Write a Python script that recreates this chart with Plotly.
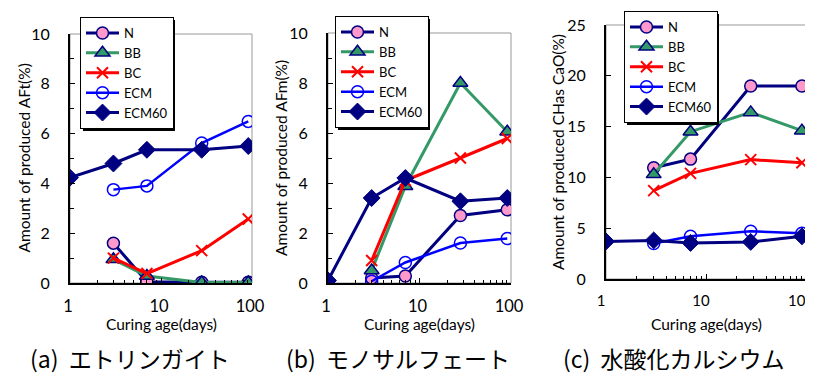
import plotly.graph_objects as go

# ---------------- data ----------------
days = [1, 3, 7, 28, 91]
series_names = ["N", "BB", "BC", "ECM", "ECM60"]

aft_N = [None, 1.6, 0.05, 0.03, 0.03]
aft_BB = [None, 0.95, 0.28, 0.02, 0.02]
aft_BC = [None, 1.0, 0.38, 1.3, 2.57]
aft_ECM = [None, 3.75, 3.9, 5.62, 6.49]
aft_ECM60 = [4.23, 4.8, 5.35, 5.35, 5.5]

afm_N = [None, 0.2, 0.28, 2.7, 2.93]
afm_BB = [None, 0.5, 3.87, 8.0, 6.05]
afm_BC = [None, 0.9, 4.1, 5.0, 5.78]
afm_ECM = [None, 0.07, 0.82, 1.6, 1.78]
afm_ECM60 = [0.1, 3.4, 4.2, 3.27, 3.4]

ch_N = [None, 10.95, 11.8, 19.0, 19.0]
ch_BB = [None, 10.3, 14.5, 16.4, 14.6]
ch_BC = [None, 8.7, 10.4, 11.75, 11.45]
ch_ECM = [None, 3.5, 4.2, 4.7, 4.5]
ch_ECM60 = [3.7, 3.8, 3.55, 3.65, 4.2]

x_tick_vals = [1, 10, 100]
x_tick_text = ["1", "10", "100"]
x_minor_vals = [2, 3, 4, 5, 6, 7, 8, 9, 20, 30, 40, 50, 60, 70, 80, 90]

y_titles = ["Amount of produced AFt(%)", "Amount of produced AFm(%)",
            "Amount of produced CHas CaO(%)"]
x_title = "Curing age(days)"
captions = ["(a)  エトリンガイト", "(b)  モノサルフェート", "(c)  水酸化カルシウム"]

panels = [
    [aft_N, aft_BB, aft_BC, aft_ECM, aft_ECM60],
    [afm_N, afm_BB, afm_BC, afm_ECM, afm_ECM60],
    [ch_N, ch_BB, ch_BC, ch_ECM, ch_ECM60],
]

# ---------------- styles ----------------
W, H = 813, 383
NAVY = "#000080"
styles = {
    "N": dict(line=dict(color=NAVY, width=3),
              marker=dict(symbol="circle", size=12, color="#FF99CC",
                          line=dict(color=NAVY, width=1.5))),
    "BB": dict(line=dict(color="#339966", width=3),
               marker=dict(symbol="triangle-up", size=13, color="#339966",
                           line=dict(color=NAVY, width=1.5))),
    "BC": dict(line=dict(color="#FF0000", width=3),
               marker=dict(symbol="x-thin", size=11, color="#FF0000",
                           line=dict(color="#FF0000", width=2))),
    "ECM": dict(line=dict(color="#0000FF", width=2.5),
                marker=dict(symbol="circle-open", size=12, color="#0000FF",
                            line=dict(width=1.5))),
    "ECM60": dict(line=dict(color=NAVY, width=3),
                  marker=dict(symbol="diamond", size=13, color=NAVY,
                              line=dict(color=NAVY, width=1))),
}

# pixel boxes of plot areas: (left, right, top, bottom)
boxes = [(62, 244, 26, 275), (320, 503, 25, 275), (598, 798, 17, 271)]
y_ranges = [[0, 10], [0, 10], [0, 25]]
y_dticks = [2, 2, 5]
y_minor = [1, 1, None]
x_label_shift = [-2, -2, -5]
x_label_size = [16.5, 16.5, 15]
legend_pos = [(72, 9), (327, 8), (616, 3)]
ytitle_x = [15, 273, 550]
caption_x = [122, 390, 666]

LEG_FONT = 13
LEG_W = 92
LEG_H = 111

fig = go.Figure()
FONT = "Lato, Carlito, Calibri, sans-serif"

for p, data in enumerate(panels):
    ax = "" if p == 0 else str(p + 1)
    leg = "legend" if p == 0 else f"legend{p + 1}"
    for name, vals in zip(series_names, data):
        st = styles[name]
        fig.add_trace(go.Scatter(
            x=days, y=vals, name=name, mode="lines+markers",
            line=st["line"], marker=st["marker"], connectgaps=False,
            xaxis="x" + ax, yaxis="y" + ax, legend=leg, showlegend=True))

layout = dict(
    width=W, height=H,
    margin=dict(l=0, r=0, t=0, b=0, pad=0, autoexpand=False),
    paper_bgcolor="white", plot_bgcolor="white",
    font=dict(family=FONT, size=16, color="black"),
    shapes=[], annotations=[],
)

for p in range(3):
    l, r, t, b = boxes[p]
    ax = "" if p == 0 else str(p + 1)
    xa = "xaxis" + ax
    ya = "yaxis" + ax
    layout[xa] = dict(
        type="log", range=[0, 2], domain=[l / W, r / W],
        anchor="y" + ax, showgrid=False, zeroline=False,
        showline=True, linecolor="black", linewidth=2,
        ticks="inside", ticklen=5, tickwidth=1, tickcolor="black",
        tickvals=x_tick_vals, ticktext=x_tick_text,
        ticklabelstandoff=7, ticklabelshift=x_label_shift[p],
        ticklabeloverflow="allow",
        tickfont=dict(family=FONT, size=x_label_size[p]),
        minor=dict(tickvals=x_minor_vals, ticks="inside", ticklen=3,
                   tickwidth=1, tickcolor="black", showgrid=False),
    )
    ydict = dict(
        range=y_ranges[p], domain=[1 - b / H, 1 - t / H],
        anchor="x" + ax, showgrid=False, zeroline=False,
        showline=True, linecolor="black", linewidth=2,
        ticks="inside", ticklen=5, tickwidth=1, tickcolor="black",
        dtick=y_dticks[p], tick0=0, ticklabelstandoff=15,
        ticklabeloverflow="allow",
        tickfont=dict(family=FONT, size=16),
    )
    if y_minor[p]:
        ydict["minor"] = dict(dtick=y_minor[p], ticks="inside", ticklen=4,
                              tickwidth=1, tickcolor="black", showgrid=False)
    layout[ya] = ydict

    # grey frame (top/right border of plot area)
    layout["shapes"].append(dict(
        type="rect", xref=f"x{ax} domain", yref=f"y{ax} domain",
        x0=0, x1=1, y0=0, y1=1, line=dict(color="#999999", width=1),
        layer="below"))

    # legend with shadow
    lx, ly = legend_pos[p]
    leg = "legend" if p == 0 else f"legend{p + 1}"
    layout[leg] = dict(
        x=lx / W, y=1 - ly / H, xanchor="left", yanchor="top",
        xref="paper", yref="paper",
        bgcolor="white", bordercolor="black", borderwidth=1,
        font=dict(family=FONT, size=LEG_FONT, color="black"),
        tracegroupgap=0, itemwidth=33,
    )
    layout["shapes"].append(dict(
        type="rect", xref="paper", yref="paper",
        x0=(lx + 3) / W, x1=(lx + 3 + LEG_W) / W,
        y0=1 - (ly + 3 + LEG_H) / H, y1=1 - (ly + 3) / H,
        fillcolor="black", line=dict(width=0), layer="above"))

    # axis titles
    layout["annotations"].append(dict(
        text=y_titles[p], textangle=-90, xref="paper", yref="paper",
        x=ytitle_x[p] / W, y=1 - ((t + b) / 2) / H, showarrow=False,
        xanchor="center", yanchor="middle",
        font=dict(family=FONT, size=15.5, color="black")))
    layout["annotations"].append(dict(
        text=x_title, xref="paper", yref="paper",
        x=((l + r) / 2 + 0) / W, y=1 - 316 / H, showarrow=False,
        xanchor="center", yanchor="middle",
        font=dict(family=FONT, size=15.5, color="black")))
    layout["annotations"].append(dict(
        text=captions[p], xref="paper", yref="paper",
        x=caption_x[p] / W, y=1 - 350 / H, showarrow=False,
        xanchor="center", yanchor="middle",
        font=dict(family="Noto Sans CJK JP", size=23, color="black")))

fig.update_layout(**layout)
fig.write_html("out.html")
